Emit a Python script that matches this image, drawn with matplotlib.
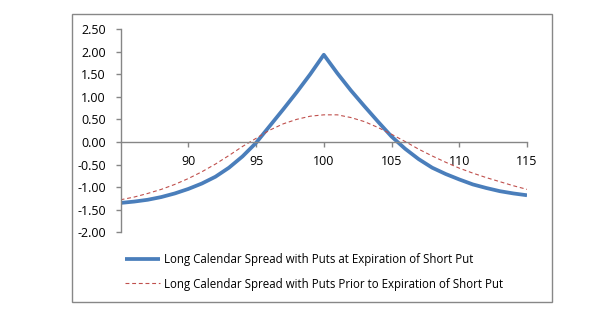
import matplotlib
matplotlib.use("Agg")
import matplotlib.pyplot as plt
from matplotlib.patches import Rectangle

price = list(range(85, 116))
at_expiration = [-1.35, -1.32, -1.28, -1.22, -1.14, -1.04, -0.92, -0.77, -0.57, -0.32,
                 -0.02, 0.35, 0.72, 1.10, 1.50, 1.93, 1.52, 1.14, 0.79, 0.45,
                 0.12, -0.15, -0.38, -0.57, -0.71, -0.83, -0.94, -1.02, -1.09, -1.14, -1.18]
prior_expiration = [-1.28, -1.22, -1.14, -1.05, -0.94, -0.81, -0.66, -0.49, -0.30, -0.10,
                    0.08, 0.26, 0.40, 0.50, 0.57, 0.60, 0.60, 0.54, 0.45, 0.32,
                    0.17, 0.01, -0.16, -0.31, -0.45, -0.58, -0.69, -0.79, -0.88, -0.97, -1.05]
x_ticks = [90, 95, 100, 105, 110, 115]
y_ticks = [2.5, 2.0, 1.5, 1.0, 0.5, 0.0, -0.5, -1.0, -1.5, -2.0]
label_at = "Long Calendar Spread with Puts at Expiration of Short Put"
label_prior = "Long Calendar Spread with Puts Prior to Expiration of Short Put"

W, H = 600, 330
plt.rcParams['font.family'] = ['Open Sans', 'DejaVu Sans']
fig = plt.figure(figsize=(W / 100, H / 100), dpi=100)

# outer chart border
fig.patches.append(Rectangle((72.3 / W, 1 - 302.3 / H), (552.3 - 72.3) / W, (302.3 - 14) / H,
                             transform=fig.transFigure, fill=False, edgecolor='#878787', lw=1.0))

left, right = 120.6, 527.0
top, bottom = 29.0, 232.3
ax = fig.add_axes([left / W, 1 - bottom / H, (right - left) / W, (bottom - top) / H])
ax.patch.set_alpha(0)

l1, = ax.plot(price, at_expiration, color='#4A7EBB', lw=2.7, solid_capstyle='butt',
              solid_joinstyle='round', label=label_at)
l2, = ax.plot(price, prior_expiration, color='#C0504D', lw=0.8, ls=(0, (3.5, 2.5)), label=label_prior)

ax.set_xlim(85, 115)
ax.set_ylim(-2.0, 2.5)
ax.spines['top'].set_visible(False)
ax.spines['right'].set_visible(False)
ax.spines['bottom'].set_position(('data', 0))
for s in ('left', 'bottom'):
    ax.spines[s].set_color('#868686')
    ax.spines[s].set_linewidth(1.0)

ax.set_xticks(x_ticks)
ax.set_xticklabels([str(v) for v in x_ticks])
ax.set_yticks(y_ticks)
ax.set_yticklabels([f"{v:.2f}" for v in y_ticks])
ax.tick_params(axis='x', direction='out', length=3.5, width=1.0, color='#868686', pad=6,
               labelsize=9, labelcolor='black')
ax.tick_params(axis='y', direction='out', length=3.5, width=1.0, color='#868686', pad=7,
               labelsize=9, labelcolor='black')

fig.legend(handles=[l1, l2], loc='upper left', bbox_to_anchor=(125 / W, 1 - 253 / H),
           frameon=False, fontsize=8.3, handlelength=3.0, handletextpad=0.35,
           labelspacing=1.0, borderaxespad=0, borderpad=0)

fig.savefig('out.png', dpi=100)
